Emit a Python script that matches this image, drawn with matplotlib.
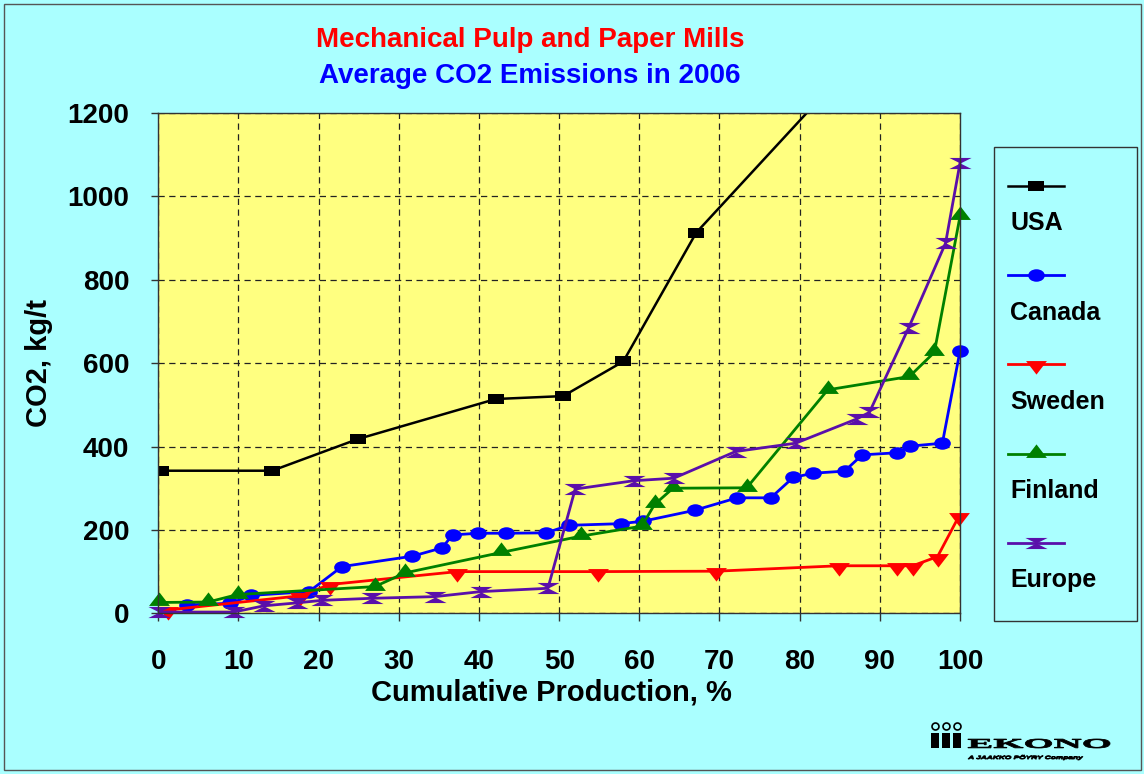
import matplotlib

matplotlib.use("Agg")
import matplotlib.pyplot as plt
from matplotlib.font_manager import FontProperties
from matplotlib.patches import PathPatch, Rectangle
from matplotlib.path import Path
from matplotlib.textpath import TextPath
from matplotlib.transforms import Affine2D

plt.rcParams["font.family"] = ["Liberation Sans", "DejaVu Sans"]

# values
usa_x = [0.3, 14.2, 24.9, 42.1, 50.5, 58.0, 67.1, 90.0]
usa_y = [342, 342, 418, 514, 521, 604, 913, 1390]

canada_x = [3.6, 9.0, 11.6, 18.8, 22.9, 31.7, 35.4, 36.7, 39.9, 43.4, 48.4, 51.2, 57.7,
            60.5, 66.9, 72.2, 76.4, 79.2, 81.7, 85.6, 87.8, 92.1, 93.8, 97.8, 100.0]
canada_y = [20, 24, 43, 52, 112, 137, 157, 188, 192, 192, 193, 211, 215,
            221, 247, 277, 277, 326, 336, 341, 380, 385, 401, 408, 629]

sweden_x = [1.2, 17.7, 21.4, 37.3, 54.8, 69.6, 84.9, 92.2, 94.1, 97.2, 99.9]
sweden_y = [8, 42, 69, 100, 100, 101, 114, 114, 114, 136, 234]

finland_x = [0.1, 6.2, 9.9, 27.0, 30.8, 42.8, 52.7, 60.3, 61.9, 64.2, 73.4, 83.5, 93.7, 96.8, 100.0]
finland_y = [26, 27, 45, 64, 97, 146, 185, 209, 261, 300, 301, 536, 568, 626, 952]

europe_x = [0.1, 9.4, 13.2, 17.3, 20.4, 26.6, 34.5, 40.2, 48.6, 52.0, 59.3, 64.3, 72.0,
            79.5, 87.1, 88.7, 93.6, 98.2, 100.0]
europe_y = [3, 3, 18, 25, 31, 36, 40, 52, 60, 298, 318, 324, 388,
            408, 466, 482, 685, 888, 1080]

series_names = ["USA", "Canada", "Sweden", "Finland", "Europe"]
x_ticks = [0, 10, 20, 30, 40, 50, 60, 70, 80, 90, 100]
y_ticks = [0, 200, 400, 600, 800, 1000, 1200]

BG = "#AAFFFF"
PLOT_BG = "#FFFF80"
PURPLE = "#5A0FAA"


def poly_marker(*polys):
    verts, codes = [], []
    for poly in polys:
        verts += list(poly) + [poly[0]]
        codes += [Path.MOVETO] + [Path.LINETO] * (len(poly) - 1) + [Path.CLOSEPOLY]
    return Path(verts, codes)


square_m = poly_marker([(-0.75, -0.5), (0.75, -0.5), (0.75, 0.5), (-0.75, 0.5)])
ellipse_m = Affine2D().scale(1.0, 0.75).transform_path(Path.unit_circle())
tri_down_m = poly_marker([(-1, 0.33), (1, 0.33), (0, -0.97)])
tri_up_m = poly_marker([(-1, -0.33), (1, -0.33), (0, 0.97)])
hourglass_m = poly_marker([(-1, 0.5), (1, 0.5), (0, 0)], [(0, 0), (1, -0.5), (-1, -0.5)])

styles = [
    dict(color="black", marker=square_m, ms=11, lw=1.8),
    dict(color="#0000FF", marker=ellipse_m, ms=12, lw=2.0),
    dict(color="#FF0000", marker=tri_down_m, ms=15, lw=2.0),
    dict(color="#008000", marker=tri_up_m, ms=15, lw=2.0),
    dict(color=PURPLE, marker=hourglass_m, ms=16, lw=2.0),
]
series = [(usa_x, usa_y), (canada_x, canada_y), (sweden_x, sweden_y),
          (finland_x, finland_y), (europe_x, europe_y)]

fig = plt.figure(figsize=(11.44, 7.74), dpi=100, facecolor=BG)
ax = fig.add_axes([158.3 / 1144, 1 - 613.3 / 774, 801.7 / 1144, 500.3 / 774])
ax.set_facecolor(PLOT_BG)

for (xs, ys), st, name in zip(series, styles, series_names):
    ax.plot(xs, ys, color=st["color"], lw=st["lw"], marker=st["marker"], ms=st["ms"],
            mew=0, label=name, clip_on=(name == "USA"))

ax.set_xlim(0, 100)
ax.set_ylim(0, 1200)
ax.set_xticks(x_ticks)
ax.set_yticks(y_ticks)
ax.grid(True, color="#222222", lw=0.9, ls=(0, (5, 3.6)))
ax.set_axisbelow(True)
for sp in ax.spines.values():
    sp.set_color("#333333")
    sp.set_linewidth(1)
ax.tick_params(axis="x", direction="out", length=6, width=1, pad=20, labelsize=20, color="#333333")
ax.tick_params(axis="y", direction="out", length=5, width=1, pad=16, labelsize=20, color="#333333")
for lab in ax.get_xticklabels() + ax.get_yticklabels():
    lab.set_fontweight("bold")

ax.set_xlabel("Cumulative Production, %", fontsize=21, fontweight="bold")
ax.xaxis.set_label_coords(0.49, -0.159)
ax.xaxis.label.set_va("center")
ax.set_ylabel("CO2, kg/t", fontsize=21, fontweight="bold")
ax.yaxis.set_label_coords(-0.149, 0.5)
ax.yaxis.label.set_va("center")

fig.text(530 / 1144, 1 - 40 / 774, "Mechanical Pulp and Paper Mills", color="#FF0000",
         fontsize=20, fontweight="bold", ha="center", va="center")
fig.text(530 / 1144, 1 - 76 / 774, "Average CO2 Emissions in 2006", color="#0000FF",
         fontsize=20, fontweight="bold", ha="center", va="center")

# overlay in pixel coordinates for the legend box, border and logo
ov = fig.add_axes([0, 0, 1, 1], zorder=5)
ov.set_xlim(0, 1144)
ov.set_ylim(774, 0)
ov.axis("off")

ov.add_patch(Rectangle((4, 4), 1137, 766, fc="none", ec="#555555", lw=1))
ov.add_patch(Rectangle((994, 147), 143, 474, fc="none", ec="#333333", lw=1))
for i, (st, name) in enumerate(zip(styles, series_names)):
    ly = 185.7 + i * 89.3
    ov.plot([1008, 1036, 1064], [ly] * 3, color=st["color"], lw=st["lw"], marker=st["marker"],
            ms=st["ms"], mew=0, markevery=[1])
    ov.text(1010, ly + 37.5, name, fontsize=18, fontweight="bold", va="center", ha="left")


def fitted_text(s, box, prop, color="black"):
    tp = TextPath((0, 0), s, prop=prop, size=10)
    bb = tp.get_extents()
    x0, y0, x1, y1 = box
    tr = Affine2D().translate(-bb.x0, -bb.y0).scale((x1 - x0) / bb.width, -(y1 - y0) / bb.height)
    tr = tr.translate(x0, y1)
    ov.add_patch(PathPatch(tr.transform_path(tp), fc=color, ec=color, lw=0.6))


serif_bold = FontProperties(family=["Liberation Serif", "DejaVu Serif"], weight="bold")
sans_bi = FontProperties(family=["Liberation Sans", "DejaVu Sans"], weight="bold", style="italic")
fitted_text("EKONO", (968, 739, 1110, 748), serif_bold)
fitted_text("A JAAKKO PÖYRY Company", (968, 755, 1083, 760), sans_bi)

# logo icon: three rings over three bars
for cx in (935, 946, 957):
    ov.add_patch(Rectangle((cx - 4, 733), 8, 15, fc="black", ec="none"))
    ov.plot([cx], [726], marker="o", ms=5, mfc="none", mec="black", mew=1.2)

fig.savefig("out.png", dpi=100, facecolor=BG)
